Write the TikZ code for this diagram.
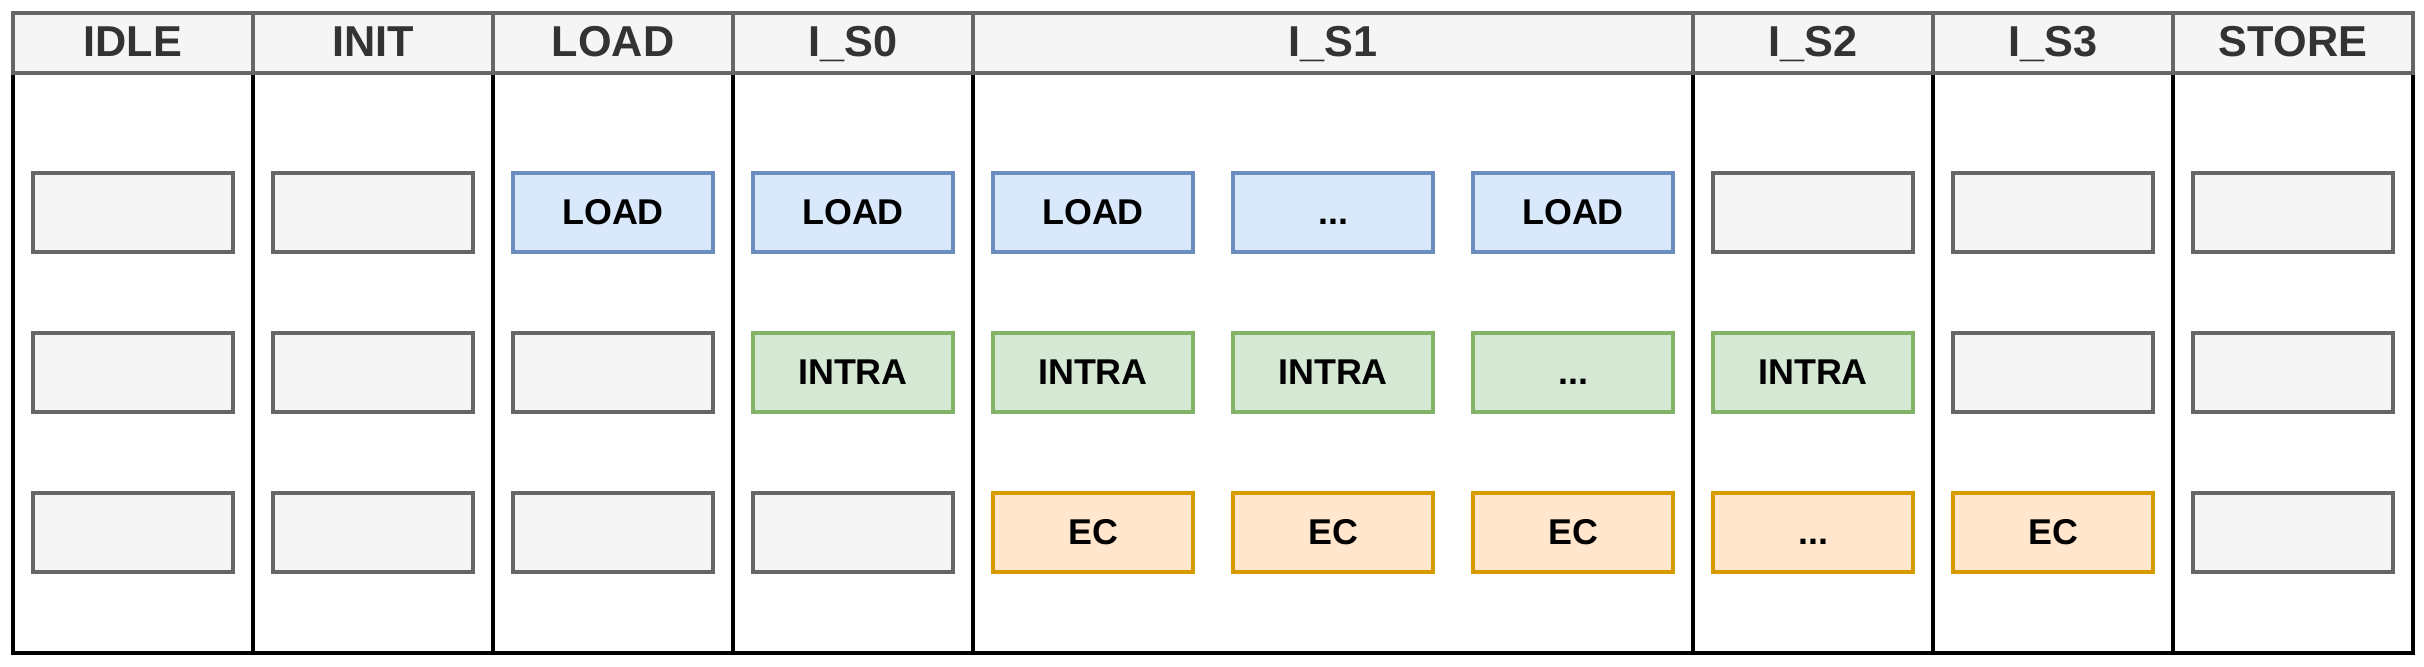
\documentclass[tikz,border=0pt]{standalone}
\usepackage{fontspec}
\setmainfont{Liberation Sans}
\usepackage{tikz}
\usetikzlibrary{shapes,calc,positioning}
\definecolor{grisFondo}{HTML}{F5F5F5}
\definecolor{grisBorde}{HTML}{666666}
\definecolor{grisTexto}{HTML}{333333}
\definecolor{azulFondo}{HTML}{DAE8FC}
\definecolor{azulBorde}{HTML}{6C8EBF}
\definecolor{verdeFondo}{HTML}{D5E8D4}
\definecolor{verdeBorde}{HTML}{82B366}
\definecolor{naranjaFondo}{HTML}{FFE6CC}
\definecolor{naranjaBorde}{HTML}{D79B00}
\tikzstyle{lane}=[rectangle, draw=black, minimum width=2.4cm,
                  minimum height=5.8cm, line width=1.1pt,
                  inner sep=0pt, outer sep=0pt]
\tikzstyle{head}=[rectangle, draw=grisBorde, fill=grisFondo,
                  minimum width=2.4cm, minimum height=0.6cm,
                  line width=1.1pt, inner sep=0pt, outer sep=0pt,
                  text height=0.27cm, text depth=0pt,
                  text=grisTexto, font=\fontsize{12.3}{14}\selectfont\bfseries]
\tikzstyle{gbox}=[rectangle, draw=grisBorde, fill=grisFondo,
                  minimum width=2cm, minimum height=0.79cm,
                  line width=1.1pt, inner sep=0pt, outer sep=0pt,
                  text height=0.23cm, text depth=0pt,
                  font=\fontsize{10.2}{12}\selectfont\bfseries]
\tikzstyle{bbox}=[gbox, draw=azulBorde, fill=azulFondo]
\tikzstyle{vbox}=[gbox, draw=verdeBorde, fill=verdeFondo]
\tikzstyle{obox}=[gbox, draw=naranjaBorde, fill=naranjaFondo]
\begin{document}
\begin{tikzpicture}

    \useasboundingbox (0,0) rectangle (24.24,6.66);

    \begin{scope}[xshift=0.13cm,yshift=0.133cm]

        % lanes
        \foreach \i in {0,1,2,3,7,8,9}
            \draw ({2.4*\i+1.2},2.9) node(l\i)[lane]{};
        \draw (13.2,2.9) node(l4)[lane,minimum width=7.2cm]{};

        % headers
        \foreach \i/\t in {0/IDLE,1/INIT,2/LOAD,3/I\_S0,7/I\_S2,8/I\_S3,9/STORE}
            \draw ({2.4*\i+1.2},6.1) node(h\i)[head]{\t};
        \draw (13.2,6.1) node(h4)[head,minimum width=7.2cm]{I\_S1};

        % first row
        \foreach \i in {0,1,7,8,9}
            \draw ({2.4*\i+1.2},4.4) node(a\i)[gbox]{};
        \foreach \i in {2,3,4,6}
            \draw ({2.4*\i+1.2},4.4) node(a\i)[bbox]{LOAD};
        \draw (13.2,4.4) node(a5)[bbox]{...};

        % second row
        \foreach \i in {0,1,2,8,9}
            \draw ({2.4*\i+1.2},2.8) node(b\i)[gbox]{};
        \foreach \i in {3,4,5,7}
            \draw ({2.4*\i+1.2},2.8) node(b\i)[vbox]{INTRA};
        \draw (15.6,2.8) node(b6)[vbox]{...};

        % third row
        \foreach \i in {0,1,2,3,9}
            \draw ({2.4*\i+1.2},1.2) node(c\i)[gbox]{};
        \foreach \i in {4,5,6,8}
            \draw ({2.4*\i+1.2},1.2) node(c\i)[obox]{EC};
        \draw (18.0,1.2) node(c7)[obox]{...};

    \end{scope}

\end{tikzpicture}
\end{document}
